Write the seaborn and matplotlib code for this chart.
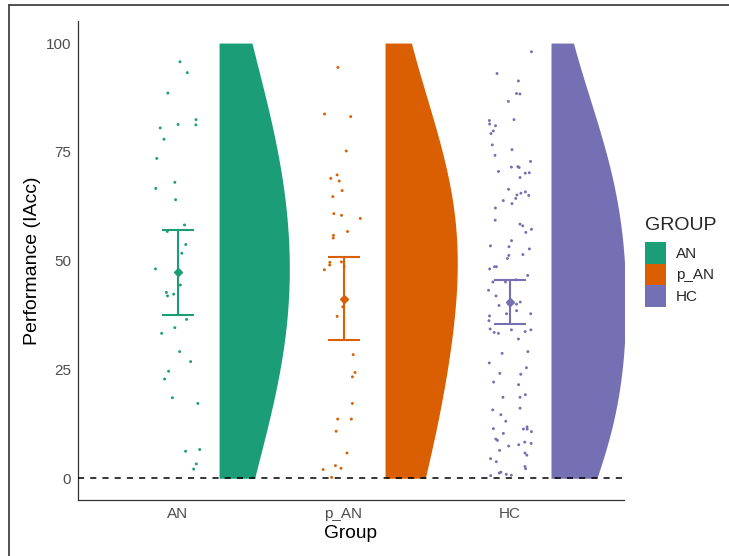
import matplotlib
matplotlib.use("Agg")
import matplotlib.pyplot as plt
import numpy as np
import pandas as pd
import seaborn as sns
from matplotlib.lines import Line2D
from matplotlib.patches import Patch

groups = ["AN", "p_AN", "HC"]
colors = ["#1B9E77", "#D95F02", "#7570B3"]

an_scores = [95.7, 93.2, 88.5, 81.3, 81.2, 82.4, 80.5, 77.9, 73.5, 68.0, 66.6, 64.0,
             58.2, 56.7, 53.7, 51.7, 48.1, 44.4, 42.7, 42.3, 41.9, 36.5, 34.6, 33.3,
             29.1, 26.8, 24.6, 22.8, 18.5, 17.2, 6.6, 6.2, 3.3, 2.1]
pan_scores = [94.4, 83.7, 83.1, 75.2, 69.7, 68.9, 68.3, 66.1, 64.7, 60.8, 60.4, 59.7,
              56.7, 55.8, 55.2, 49.7, 49.6, 49.0, 48.6, 47.9, 39.4, 37.2, 28.4, 24.3,
              23.3, 17.2, 13.6, 13.6, 10.8, 5.8, 2.9, 2.3, 2.0, 0.2]
hc_scores = [98.0, 93.0, 91.3, 88.4, 88.3, 86.6, 82.4, 82.2, 81.4, 81.0, 79.8, 79.2,
             76.6, 75.5, 74.2, 72.8, 71.6, 71.5, 71.4, 70.5, 70.2, 70.1, 69.1, 66.4,
             65.8, 65.5, 65.1, 65.0, 64.3, 63.8, 63.1, 62.1, 59.3, 58.4, 58.0, 57.2,
             56.5, 54.6, 53.4, 53.2, 52.7, 51.4, 51.2, 50.5, 48.6, 48.6, 48.1, 46.6,
             45.6, 45.1, 45.1, 43.2, 41.9, 40.5, 40.0, 40.0, 39.7, 38.5, 37.8, 37.8,
             37.3, 36.2, 34.3, 34.1, 34.1, 33.7, 33.5, 33.3, 32.0, 29.1, 28.7, 26.5,
             25.4, 24.1, 23.9, 22.1, 21.5, 19.2, 18.6, 18.6, 16.1, 15.7, 14.6, 13.1,
             11.8, 11.4, 11.3, 11.3, 10.7, 10.3, 9.0, 8.7, 8.3, 8.0, 7.7, 7.4,
             6.4, 5.8, 5.3, 4.5, 3.8, 2.7, 2.2, 1.4, 1.2, 0.9, 0.7, 0.6]

# mean and 95% CI
group_means = [47.3, 41.3, 40.5]
ci_low = [37.5, 31.8, 35.4]
ci_high = [57.0, 50.9, 45.6]

y_ticks = [0, 25, 50, 75, 100]


def kde(values, grid, adjust=2.2):
    x = np.asarray(values)
    n = len(x)
    sd = x.std(ddof=1)
    iqr = np.subtract(*np.percentile(x, [75, 25]))
    bw = adjust * 0.9 * min(sd, iqr / 1.34) * n ** -0.2
    z = (grid[:, None] - x[None, :]) / bw
    return np.exp(-0.5 * z ** 2).sum(axis=1) / (n * bw * np.sqrt(2 * np.pi))


def main():
    df = pd.DataFrame({
        "Group": ["AN"] * len(an_scores) + ["p_AN"] * len(pan_scores) + ["HC"] * len(hc_scores),
        "score": an_scores + pan_scores + hc_scores,
    })

    sns.set_style("white")
    plt.rcParams["font.family"] = ["Liberation Sans", "DejaVu Sans"]

    fig = plt.figure(figsize=(7.29, 5.56), dpi=100)
    ax = fig.add_axes([0.107, 0.1007, 0.749, 0.861])

    # half violins on the right of each group
    grid = np.linspace(0, 100, 400)
    dens = [kde(df.score[df.Group == g], grid) for g in groups]
    dmax = max(d.max() for d in dens)
    for i, (d, c) in enumerate(zip(dens, colors)):
        x0 = i + 0.25
        ax.fill_betweenx(grid, x0, x0 + d / dmax * 0.45, color=c, linewidth=0, zorder=2)

    np.random.seed(3)
    sns.stripplot(data=df, x="Group", y="score", hue="Group", order=groups,
                  palette=colors, jitter=0.14, size=2.1, linewidth=0,
                  legend=False, ax=ax, zorder=3)

    for i, c in enumerate(colors):
        ax.errorbar(i, group_means[i],
                    yerr=[[group_means[i] - ci_low[i]], [ci_high[i] - group_means[i]]],
                    fmt="D", color=c, markersize=4.5, elinewidth=1.5, capsize=11.5,
                    capthick=1.5, zorder=4)

    ax.axhline(0, color="black", linestyle=(0, (4, 4)), linewidth=1.1, zorder=5)

    ax.set_xlim(-0.6, 2.69)
    ax.set_ylim(-5, 105)
    ax.set_yticks(y_ticks)
    ax.set_xlabel("Group", fontsize=13.8, color="black", labelpad=3)
    ax.set_ylabel("Performance (IAcc)", fontsize=14, color="black", labelpad=3)

    sns.despine(ax=ax)
    for side in ["left", "bottom"]:
        ax.spines[side].set_color("#333333")
        ax.spines[side].set_linewidth(0.9)
    ax.tick_params(length=3, width=0.8, color="#333333", labelcolor="#4D4D4D",
                   labelsize=11, pad=2)

    # legend title placed by hand so the gap to the keys matches
    fig.text(645 / 729, 1 - 230 / 556, "GROUP", fontsize=14, va="baseline", ha="left")
    handles = [Patch(facecolor=c, edgecolor="none", label=g) for g, c in zip(groups, colors)]
    fig.legend(handles=handles, loc="upper left",
               bbox_to_anchor=(645 / 729, 1 - 242 / 556), frameon=False,
               fontsize=11, handlelength=1.37, handleheight=1.81,
               labelspacing=0, handletextpad=0.65, borderpad=0, borderaxespad=0)

    # outer frame, only top and left visible in the crop
    fx, fy = 9 / 729, 1 - 5 / 556
    fig.add_artist(Line2D([fx, 1], [fy, fy], color="#333333", linewidth=1.2))
    fig.add_artist(Line2D([fx, fx], [fy, 0], color="#333333", linewidth=1.2))

    fig.savefig("out.png", dpi=100)


if __name__ == "__main__":
    main()
